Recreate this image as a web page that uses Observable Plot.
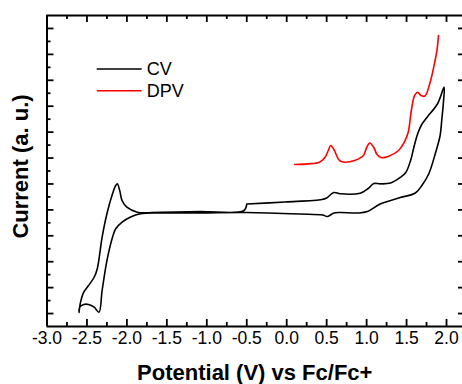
<!DOCTYPE html>
<html><head><meta charset="utf-8">
<script src="https://cdn.jsdelivr.net/npm/d3@7"></script>
<script src="https://cdn.jsdelivr.net/npm/@observablehq/plot@0.6"></script>
<style>body{margin:0;background:#fff;} svg{display:block}</style>
</head><body><div id="chart"></div>
<script>
// CV trace (potential V vs Fc/Fc+, current a.u.) in scan order
const cvX = [-0.50, -0.02, 0.44, 0.50, 0.59, 0.67, 0.92, 1.02, 1.09, 1.17, 1.30, 1.42, 1.49, 1.55, 1.60, 1.64, 1.69, 1.76, 1.89, 1.97,
  1.96, 1.94, 1.92, 1.86, 1.78, 1.70, 1.61, 1.42, 1.17, 1.01,
  0.89, 0.67, 0.59, 0.51, 0.45, 0.17, -0.50,
  -1.08, -1.58, -1.83, -1.96, -2.06, -2.14, -2.18, -2.25, -2.31, -2.35,
  -2.41, -2.48, -2.54, -2.59, -2.60,
  -2.58, -2.54, -2.48, -2.41, -2.37, -2.31, -2.25, -2.18, -2.14, -2.12,
  -2.09, -2.06, -2.00, -1.87, -1.58, -1.08, -0.54, -0.50];
const cvY = [9.45, 9.61, 9.80, 9.92, 10.34, 10.24, 10.29, 10.65, 11.03, 11.01, 11.07, 11.50, 11.88, 12.81, 14.04, 14.89, 15.59, 16.17, 17.21, 18.47,
  17.21, 15.90, 14.74, 13.35, 11.81, 10.96, 10.30, 9.95, 9.45, 8.87,
  8.76, 8.80, 8.76, 8.49, 8.60, 8.68, 8.80,
  8.77, 8.76, 8.70, 8.43, 8.05, 7.54, 6.89, 5.09, 2.78, 1.10,
  1.49, 1.70, 1.70, 1.49, 1.08,
  1.88, 2.65, 3.16, 3.80, 4.48, 6.89, 8.70, 10.24, 10.88, 11.01,
  10.49, 9.72, 9.21, 8.82, 8.82, 8.87, 8.93, 9.45];
// DPV trace
const dpvX = [0.10, 0.27, 0.41, 0.48, 0.52, 0.55, 0.59, 0.65, 0.69, 0.85, 0.96, 1.00, 1.04, 1.09, 1.13, 1.18, 1.27, 1.40, 1.47, 1.52, 1.56, 1.60, 1.64, 1.68, 1.73, 1.79, 1.84, 1.88, 1.90];
const dpvY = [12.50, 12.55, 12.68, 13.06, 13.58, 13.97, 13.66, 12.89, 12.71, 12.81, 13.19, 13.81, 14.16, 13.81, 13.27, 13.04, 13.12, 13.58, 14.20, 14.97, 16.67, 17.82, 18.08, 17.82, 17.79, 18.73, 20.01, 21.30, 22.45];

const xMajorTicks = [-3.0, -2.5, -2.0, -1.5, -1.0, -0.5, 0.0, 0.5, 1.0, 1.5, 2.0];
const xMinorTicks = [-2.75, -2.25, -1.75, -1.25, -0.75, -0.25, 0.25, 0.75, 1.25, 1.75];
const yMajorTicks = [1, 3, 5, 7, 9, 11, 13, 15, 17, 19, 21, 23];
const yMinorTicks = [2, 4, 6, 8, 10, 12, 14, 16, 18, 20, 22];
const xDomain = [-3.0, 2.2];
const yDomain = [0, 24];
const seriesNames = ["CV", "DPV"];
const seriesColors = ["#000000", "#ff0000"];
const xTitle = "Potential (V) vs Fc/Fc+";
const yTitle = "Current (a. u.)";

const cv = cvX.map((x, i) => ({x, y: cvY[i]}));
const dpv = dpvX.map((x, i) => ({x, y: dpvY[i]}));
const font = "'Liberation Sans', Arial, sans-serif";
const tickOpts = {fill: "none", label: null, strokeWidth: 1.8};
const H = 384, MT = 15, MB = 58;
const frameH = H - MT - MB;

const svg = Plot.plot({
  width: 462, height: H,
  marginLeft: 46.5, marginRight: 0, marginTop: MT, marginBottom: MB,
  x: {domain: xDomain},
  y: {domain: yDomain},
  style: {fontFamily: font, background: "white", color: "black"},
  marks: [
    Plot.line(cv, {x: "x", y: "y", stroke: seriesColors[0], strokeWidth: 1.6, curve: "catmull-rom"}),
    Plot.line(dpv, {x: "x", y: "y", stroke: seriesColors[1], strokeWidth: 1.6, curve: "catmull-rom"}),
    Plot.ruleX([xDomain[0]], {strokeWidth: 2}),
    Plot.ruleY(yDomain, {strokeWidth: 2}),
    Plot.axisX(xMajorTicks, {anchor: "bottom", tickSize: -7, ...tickOpts}),
    Plot.axisX(xMinorTicks, {anchor: "bottom", tickSize: -4, ...tickOpts}),
    Plot.tickX(xMajorTicks, {x: d => d, insetBottom: frameH - 7, strokeWidth: 1.8}),
    Plot.tickX(xMinorTicks, {x: d => d, insetBottom: frameH - 4, strokeWidth: 1.8}),
    Plot.axisY(yMajorTicks, {anchor: "left", tickSize: -7, ...tickOpts}),
    Plot.axisY(yMinorTicks, {anchor: "left", tickSize: -4, ...tickOpts}),
    Plot.axisY(yMajorTicks, {anchor: "right", tickSize: -5, ...tickOpts}),
    Plot.axisX(xMajorTicks, {anchor: "bottom", tickSize: 0, tickPadding: 5, label: null, fontSize: 17.5, tickFormat: d => d.toFixed(1)}),
    Plot.text([xTitle], {frameAnchor: "bottom", dy: 46, text: d => d, fontSize: 22, fontWeight: "bold", lineAnchor: "middle", textAnchor: "middle"}),
    Plot.text([yTitle], {frameAnchor: "left", dx: -26.5, dy: -4.5, rotate: -90, text: d => d, fontSize: 22, fontWeight: "bold", lineAnchor: "middle", textAnchor: "middle"})
  ]
});
document.getElementById("chart").appendChild(svg);

// legend inside the plot area
const lg = d3.select(svg).append("g").attr("font-family", font).attr("font-size", 18).attr("text-anchor", "start");
seriesNames.forEach((name, i) => {
  const yy = 69 + i * 21.7;
  lg.append("line").attr("x1", 96.7).attr("x2", 141.7).attr("y1", yy).attr("y2", yy)
    .attr("stroke", seriesColors[i]).attr("stroke-width", 1.6);
  lg.append("text").attr("x", 146.7).attr("y", yy + 6.3).attr("fill", "black").attr("text-anchor", "start").text(name);
});
</script>
</body></html>
